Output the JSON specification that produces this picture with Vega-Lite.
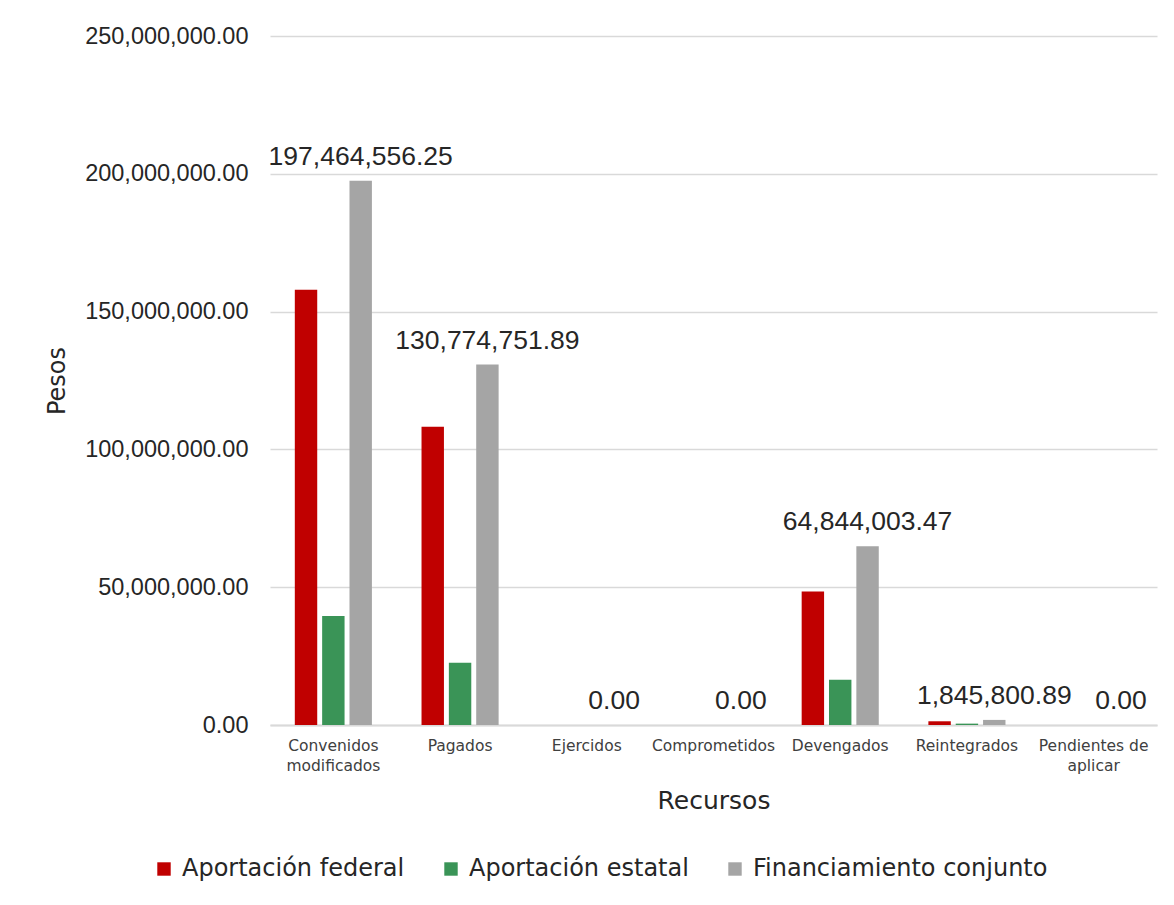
{
  "$schema": "https://vega.github.io/schema/vega-lite/v6.json",
  "width": 887,
  "height": 689,
  "autosize": {"type": "none"},
  "padding": {"left": 270, "top": 36, "right": 17, "bottom": 180},
  "background": "white",
  "config": {
    "view": {"stroke": null},
    "font": "DejaVu Sans"
  },
  "data": {
    "values": [
      {"recurso": "Convenidos modificados", "serie": "Aportación federal", "valor": 157900000},
      {"recurso": "Convenidos modificados", "serie": "Aportación estatal", "valor": 39564556.25},
      {"recurso": "Convenidos modificados", "serie": "Financiamiento conjunto", "valor": 197464556.25},
      {"recurso": "Pagados", "serie": "Aportación federal", "valor": 108200000},
      {"recurso": "Pagados", "serie": "Aportación estatal", "valor": 22574751.89},
      {"recurso": "Pagados", "serie": "Financiamiento conjunto", "valor": 130774751.89},
      {"recurso": "Ejercidos", "serie": "Aportación federal", "valor": 0},
      {"recurso": "Ejercidos", "serie": "Aportación estatal", "valor": 0},
      {"recurso": "Ejercidos", "serie": "Financiamiento conjunto", "valor": 0},
      {"recurso": "Comprometidos", "serie": "Aportación federal", "valor": 0},
      {"recurso": "Comprometidos", "serie": "Aportación estatal", "valor": 0},
      {"recurso": "Comprometidos", "serie": "Financiamiento conjunto", "valor": 0},
      {"recurso": "Devengados", "serie": "Aportación federal", "valor": 48400000},
      {"recurso": "Devengados", "serie": "Aportación estatal", "valor": 16444003.47},
      {"recurso": "Devengados", "serie": "Financiamiento conjunto", "valor": 64844003.47},
      {"recurso": "Reintegrados", "serie": "Aportación federal", "valor": 1350000},
      {"recurso": "Reintegrados", "serie": "Aportación estatal", "valor": 495800.89},
      {"recurso": "Reintegrados", "serie": "Financiamiento conjunto", "valor": 1845800.89},
      {"recurso": "Pendientes de aplicar", "serie": "Aportación federal", "valor": 0},
      {"recurso": "Pendientes de aplicar", "serie": "Aportación estatal", "valor": 0},
      {"recurso": "Pendientes de aplicar", "serie": "Financiamiento conjunto", "valor": 0}
    ]
  },
  "encoding": {
    "x": {
      "field": "recurso",
      "type": "nominal",
      "sort": ["Convenidos modificados", "Pagados", "Ejercidos", "Comprometidos", "Devengados", "Reintegrados", "Pendientes de aplicar"],
      "scale": {"paddingInner": 0.37, "paddingOuter": 0.185},
      "axis": {
        "title": "Recursos",
        "titleFont": "DejaVu Sans",
        "titleFontSize": 25,
        "titleFontWeight": "normal",
        "titleColor": "#262626",
        "titlePadding": 15,
        "labelAngle": 0,
        "labelFont": "DejaVu Sans",
        "labelFontSize": 15.5,
        "labelColor": "#404040",
        "labelPadding": 13,
        "labelLineHeight": 20,
        "labelExpr": "datum.value == 'Convenidos modificados' ? ['Convenidos', 'modificados'] : datum.value == 'Pendientes de aplicar' ? ['Pendientes de', 'aplicar'] : datum.value",
        "ticks": false,
        "domainColor": "#D9D9D9",
        "domainWidth": 2,
        "grid": false
      }
    },
    "xOffset": {
      "field": "serie",
      "type": "nominal",
      "sort": ["Aportación federal", "Aportación estatal", "Financiamiento conjunto"],
      "scale": {"paddingInner": 0.18, "paddingOuter": 0.05}
    }
  },
  "layer": [
    {
      "mark": {"type": "bar"},
      "encoding": {
        "y": {
          "field": "valor",
          "type": "quantitative",
          "scale": {"domain": [0, 250000000], "nice": false},
          "axis": {
            "title": "Pesos",
            "titleFont": "DejaVu Sans",
            "titleFontSize": 24,
            "titleFontWeight": "normal",
            "titleColor": "#262626",
            "titlePadding": 15,
            "values": [0, 50000000, 100000000, 150000000, 200000000, 250000000],
            "format": ",.2f",
            "labelFont": "Liberation Sans",
            "labelFontSize": 23.5,
            "labelColor": "#262626",
            "labelPadding": 22,
            "ticks": false,
            "domain": false,
            "gridColor": "#D9D9D9",
            "gridWidth": 1.3
          }
        },
        "color": {
          "field": "serie",
          "type": "nominal",
          "sort": ["Aportación federal", "Aportación estatal", "Financiamiento conjunto"],
          "scale": {
            "domain": ["Aportación federal", "Aportación estatal", "Financiamiento conjunto"],
            "range": ["#C00000", "#3A9457", "#A5A5A5"]
          },
          "legend": {
            "title": null,
            "orient": "none",
            "direction": "horizontal",
            "legendX": -118,
            "legendY": 821,
            "symbolType": "square",
            "symbolSize": 180,
            "symbolStrokeWidth": 0,
            "labelFont": "DejaVu Sans",
            "labelFontSize": 24,
            "labelColor": "#262626",
            "labelLimit": 500,
            "labelOffset": 6,
            "columnPadding": 34
          }
        }
      }
    },
    {
      "transform": [{"filter": "datum.serie == 'Financiamiento conjunto'"}],
      "mark": {
        "type": "text",
        "baseline": "alphabetic",
        "dy": -16,
        "font": "Liberation Sans",
        "fontSize": 26.5,
        "color": "#262626"
      },
      "encoding": {
        "y": {"field": "valor", "type": "quantitative"},
        "text": {"field": "valor", "type": "quantitative", "format": ",.2f"}
      }
    }
  ]
}
